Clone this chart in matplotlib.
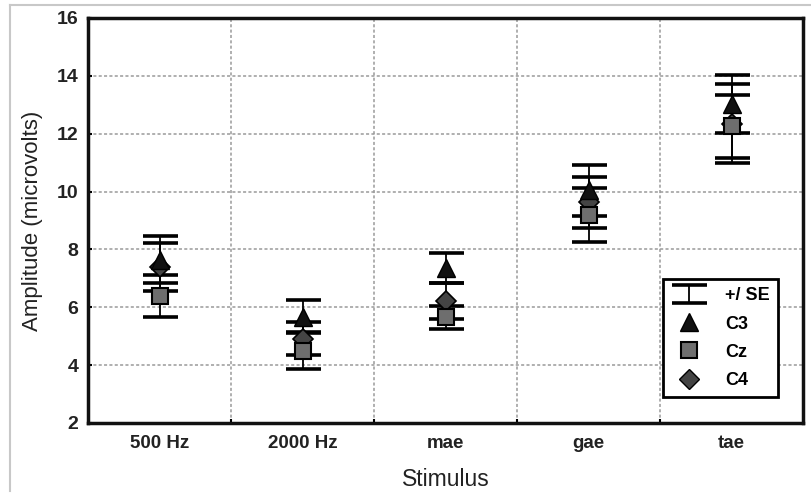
import numpy as np
import matplotlib
matplotlib.use("Agg")
import matplotlib.pyplot as plt
from matplotlib.lines import Line2D

plt.rcParams['font.family'] = ['Liberation Sans', 'DejaVu Sans']

# values
stimuli = ["500 Hz", "2000 Hz", "mae", "gae", "tae"]
c3_mean = [7.65, 5.68, 7.36, 10.04, 13.04]
c3_se = [0.82, 0.57, 0.53, 0.88, 1.00]
cz_mean = [6.40, 4.50, 5.65, 9.18, 12.25]
cz_se = [0.72, 0.64, 0.41, 0.93, 1.10]
c4_mean = [7.39, 4.92, 6.22, 9.63, 12.35]
c4_se = [0.82, 0.58, 0.62, 0.88, 1.37]
y_ticks = [2, 4, 6, 8, 10, 12, 14, 16]

fig = plt.figure(figsize=(8.12, 4.93), dpi=100)
ax = fig.add_axes([0.1084, 0.142, 0.8806, 0.8215])

x = np.arange(len(stimuli))

# light frame of the original screenshot
fig.add_artist(Line2D([0.012, 1.0], [0.99, 0.99], color="#c8c8c8", lw=1.5, transform=fig.transFigure))
fig.add_artist(Line2D([0.012, 0.012], [0.005, 0.99], color="#c8c8c8", lw=1.5, transform=fig.transFigure))

eb_kw = dict(fmt='none', ecolor='black', elinewidth=1.3, capsize=12.6, capthick=2.6, zorder=3)
eb_handle = None
for m, s in [(c4_mean, c4_se), (cz_mean, cz_se), (c3_mean, c3_se)]:
    eb = ax.errorbar(x, m, yerr=s, **eb_kw)
    if eb_handle is None:
        eb_handle = eb

ax.plot(x, c4_mean, 'D', ms=10, mfc='#444444', mec='black', mew=1.2, ls='none', zorder=4)
ax.plot(x, cz_mean, 's', ms=12, mfc='#6e6e6e', mec='black', mew=1.5, ls='none', zorder=5)
ax.plot(x, c3_mean, '^', ms=13, mfc='#111111', mec='black', mew=1, ls='none', zorder=6)

ax.set_xlim(-0.5, len(stimuli) - 0.5)
ax.set_ylim(2, 16)
ax.set_yticks(y_ticks)
ax.set_yticklabels([str(v) for v in y_ticks], fontsize=14, fontweight='bold', color='#222222')
ax.set_xticks(x)
ax.set_xticklabels(stimuli, fontsize=13.5, fontweight='bold', color='#222222')
ax.set_xticks(x[:-1] + 0.5, minor=True)
ax.tick_params(axis='x', which='major', length=0, pad=9)
ax.tick_params(axis='x', which='minor', direction='in', length=3, width=1.5)
ax.tick_params(axis='y', direction='in', length=3, width=1.5, pad=7)

ax.grid(True, axis='y', ls=(0, (2, 1.5)), color='#9a9a9a', lw=1.1)
ax.grid(True, axis='x', which='minor', ls=(0, (2, 1.5)), color='#9a9a9a', lw=1.1)
ax.set_axisbelow(True)

for sp in ax.spines.values():
    sp.set_linewidth(2.5)
    sp.set_color('#111111')

ax.set_xlabel("Stimulus", fontsize=16.5, color='#222222', labelpad=11)
ax.set_ylabel("Amplitude (microvolts)", fontsize=16, color='#222222', labelpad=10)

handles = [
    eb_handle,
    Line2D([], [], marker='^', ms=13, mfc='#111111', mec='black', ls='none'),
    Line2D([], [], marker='s', ms=12, mfc='#6e6e6e', mec='black', mew=1.5, ls='none'),
    Line2D([], [], marker='D', ms=10, mfc='#444444', mec='black', ls='none'),
]
leg = ax.legend(handles, ["+/ SE", "C3", "Cz", "C4"], loc='lower right',
                bbox_to_anchor=(0.965, 0.064), borderaxespad=0,
                fancybox=False, framealpha=1,
                edgecolor='black', prop={'weight': 'bold', 'size': 13},
                handlelength=2.0, handletextpad=1.0, labelspacing=0.62,
                borderpad=0.45)
leg.get_frame().set_linewidth(2)
leg.set_zorder(10)

fig.savefig("out.png", dpi=100)
